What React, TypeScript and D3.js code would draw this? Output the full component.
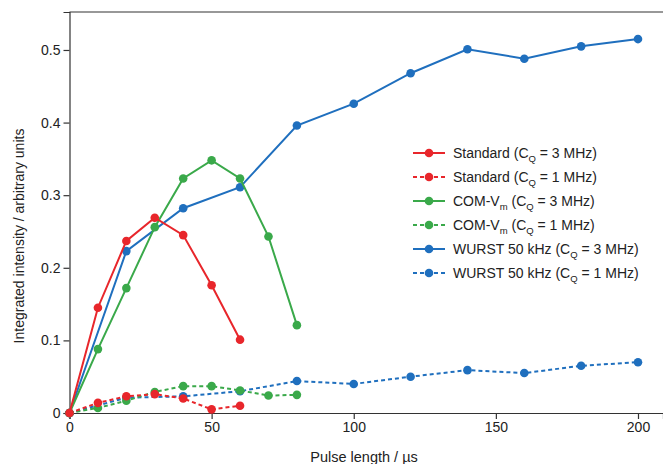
import * as d3 from "d3";
import {useEffect, useRef} from "react";

const WIDTH = 663;
const HEIGHT = 464;

// values
const stdX = [0, 10, 20, 30, 40, 50, 60];
const std3 = [0, 0.145, 0.237, 0.269, 0.245, 0.176, 0.101];
const std1 = [0, 0.014, 0.023, 0.026, 0.020, 0.005, 0.010];

const comX = [0, 10, 20, 30, 40, 50, 60, 70, 80];
const com3 = [0, 0.088, 0.172, 0.256, 0.323, 0.348, 0.323, 0.243, 0.121];
const com1 = [0, 0.007, 0.017, 0.029, 0.037, 0.037, 0.031, 0.024, 0.025];

const wurstX = [0, 20, 40, 60, 80, 100, 120, 140, 160, 180, 200];
const wurst3 = [0, 0.223, 0.282, 0.311, 0.396, 0.426, 0.468, 0.501, 0.488, 0.505, 0.515];
const wurst1 = [0, 0.021, 0.023, 0.030, 0.044, 0.040, 0.050, 0.059, 0.055, 0.065, 0.070];

const xTicks = [0, 50, 100, 150, 200];
const yTicks = [0, 0.1, 0.2, 0.3, 0.4, 0.5];

const RED = "#e8262b";
const GREEN = "#3aa94a";
const BLUE = "#1f6fbe";

const series = [
    {name: "WURST 50 kHz", sub: "", cq: "1", x: wurstX, y: wurst1, color: BLUE, dashed: true},
    {name: "COM-V", sub: "m", cq: "1", x: comX, y: com1, color: GREEN, dashed: true},
    {name: "Standard", sub: "", cq: "1", x: stdX, y: std1, color: RED, dashed: true},
    {name: "WURST 50 kHz", sub: "", cq: "3", x: wurstX, y: wurst3, color: BLUE, dashed: false},
    {name: "COM-V", sub: "m", cq: "3", x: comX, y: com3, color: GREEN, dashed: false},
    {name: "Standard", sub: "", cq: "3", x: stdX, y: std3, color: RED, dashed: false},
];
const legendOrder = [5, 2, 4, 1, 3, 0];

const FONT = "Liberation Sans, Arial, sans-serif";

const App = () => {
    const ref = useRef<SVGSVGElement>(null);

    useEffect(() => {
        const svg = d3.select(ref.current);
        svg.selectAll("*").remove();

        const x = d3.scaleLinear().domain([0, 208.8]).range([69.5, 663]);
        const y = d3.scaleLinear().domain([0, 0.5523]).range([413, 12]);

        // top frame line
        svg.append("line")
            .attr("x1", x(0)).attr("x2", WIDTH)
            .attr("y1", y(0.5523)).attr("y2", y(0.5523))
            .attr("stroke", "#333").attr("stroke-width", 1.2);

        const xAxis = svg.append("g")
            .attr("transform", `translate(0,${y(0)})`)
            .call(d3.axisBottom(x).tickValues(xTicks).tickSize(6).tickPadding(3).tickFormat(d3.format("d")));
        const yAxis = svg.append("g")
            .attr("transform", `translate(${x(0)},0)`)
            .call(d3.axisLeft(y).tickValues(yTicks).tickSize(6).tickPadding(3).tickFormat(d => d === 0 ? "0" : d3.format(".1f")(d as number)));

        [xAxis, yAxis].forEach(a => {
            a.select(".domain").attr("stroke", "#333").attr("stroke-width", 1.2);
            a.selectAll(".tick line").attr("stroke", "#333").attr("stroke-width", 1.2);
            a.selectAll(".tick text").attr("fill", "#222").style("font-family", FONT).style("font-size", "14px");
        });

        // axis titles
        svg.append("text")
            .attr("x", 364).attr("y", 462)
            .attr("text-anchor", "middle")
            .style("font-family", FONT).style("font-size", "14.5px").attr("fill", "#222")
            .text("Pulse length / \u00b5s");
        svg.append("text")
            .attr("transform", `translate(24,236) rotate(-90)`)
            .attr("text-anchor", "middle")
            .style("font-family", FONT).style("font-size", "14px").attr("fill", "#222")
            .text("Integrated intensity / arbitrary units");

        const line = d3.line<[number, number]>().x(d => x(d[0])).y(d => y(d[1]));

        series.forEach(s => {
            const pts: [number, number][] = s.x.map((v, i) => [v, s.y[i]]);
            const g = svg.append("g");
            g.append("path")
                .attr("d", line(pts))
                .attr("fill", "none")
                .attr("stroke", s.color)
                .attr("stroke-width", 2)
                .attr("stroke-dasharray", s.dashed ? "4,3" : null);
            g.selectAll("circle")
                .data(pts)
                .join("circle")
                .attr("cx", d => x(d[0]))
                .attr("cy", d => y(d[1]))
                .attr("r", 4.3)
                .attr("fill", s.color);
        });

        // legend
        const legend = svg.append("g").attr("transform", "translate(413,153)");
        legendOrder.forEach((idx, row) => {
            const s = series[idx];
            const g = legend.append("g").attr("transform", `translate(0,${row * 24})`);
            g.append("line")
                .attr("x1", 0).attr("x2", 32).attr("y1", 0).attr("y2", 0)
                .attr("stroke", s.color).attr("stroke-width", 2)
                .attr("stroke-dasharray", s.dashed ? "4,3" : null);
            g.append("circle").attr("cx", 16).attr("cy", 0).attr("r", 4.3).attr("fill", s.color);
            const t = g.append("text")
                .attr("x", 40).attr("y", 5)
                .style("font-family", FONT).style("font-size", "14px").attr("fill", "#222");
            t.append("tspan").text(s.name);
            if (s.sub) t.append("tspan").attr("dy", 4).style("font-size", "9.5px").text(s.sub);
            t.append("tspan").attr("dy", s.sub ? -4 : 0).text(" (C");
            t.append("tspan").attr("dy", 4).style("font-size", "9.5px").text("Q");
            t.append("tspan").attr("dy", -4).text(` = ${s.cq} MHz)`);
        });
    }, []);

    return (
        <div style={{position: "absolute", left: 0, top: 0}}>
            <svg ref={ref} width={WIDTH} height={HEIGHT} style={{display: "block", background: "#fff"}}/>
        </div>
    );
};

export default App;
